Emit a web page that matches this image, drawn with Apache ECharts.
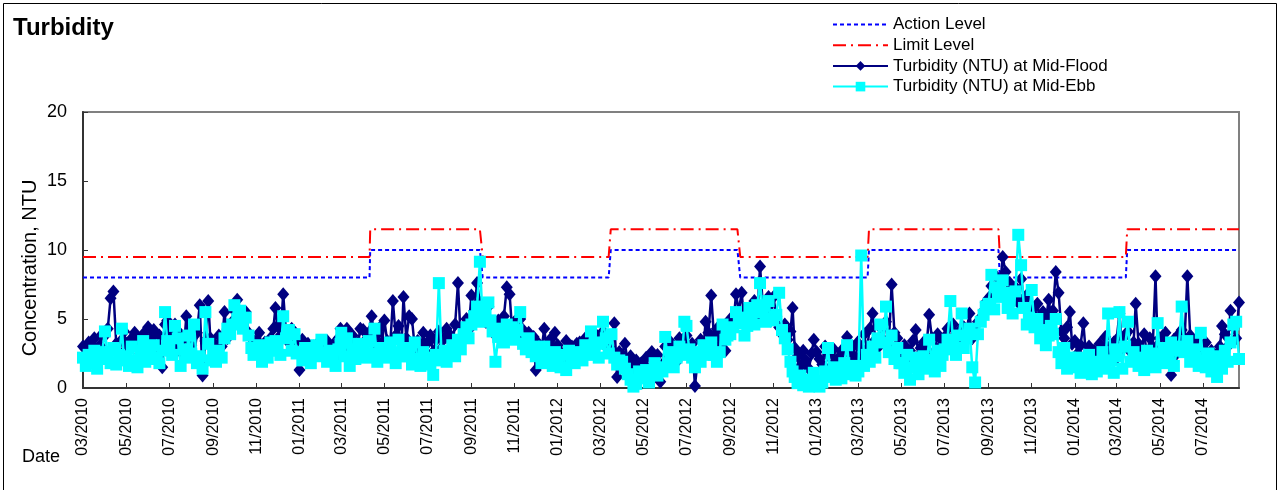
<!DOCTYPE html>
<html>
<head>
<meta charset="utf-8">
<script src="https://cdn.jsdelivr.net/npm/echarts@6/dist/echarts.min.js"></script>
<style>
html,body{margin:0;padding:0;background:#fff;}
#c{width:1282px;height:490px;}
</style>
</head>
<body>
<div id="c"></div>
<script>
// ---------- DATA ----------
const titleText = 'Turbidity';
const yAxisTitle = 'Concentration, NTU';
const xAxisTitle = 'Date';
const seriesNames = ['Action Level', 'Limit Level', 'Turbidity (NTU) at Mid-Flood', 'Turbidity (NTU) at Mid-Ebb'];
const yTicks = [0, 5, 10, 15, 20];
const xMin = '2010-03-01';
const xMax = '2014-08-21';

const actionLevel = [
  ['2010-03-01', 8], ['2011-04-10', 8], ['2011-04-11', 10], ['2011-09-13', 10], ['2011-09-17', 8],
  ['2012-03-13', 8], ['2012-03-16', 10], ['2012-09-11', 10], ['2012-09-15', 8],
  ['2013-03-14', 8], ['2013-03-16', 10], ['2013-09-15', 10], ['2013-09-17', 8],
  ['2014-03-14', 8], ['2014-03-16', 10], ['2014-08-21', 10]
];
const limitLevel = [
  ['2010-03-01', 9.5], ['2011-04-10', 9.5], ['2011-04-11', 11.5], ['2011-09-13', 11.5], ['2011-09-17', 9.5],
  ['2012-03-13', 9.5], ['2012-03-16', 11.5], ['2012-09-11', 11.5], ['2012-09-15', 9.5],
  ['2013-03-14', 9.5], ['2013-03-16', 11.5], ['2013-09-15', 11.5], ['2013-09-17', 9.5],
  ['2014-03-14', 9.5], ['2014-03-16', 11.5], ['2014-08-21', 11.5]
];

// monitoring months and sampling days within each month
const months = [
  '2010-03','2010-04','2010-05','2010-06','2010-07','2010-08','2010-09','2010-10','2010-11','2010-12',
  '2011-01','2011-02','2011-03','2011-04','2011-05','2011-06','2011-07','2011-08','2011-09','2011-10','2011-11','2011-12',
  '2012-01','2012-02','2012-03','2012-04','2012-05','2012-06','2012-07','2012-08','2012-09','2012-10','2012-11','2012-12',
  '2013-01','2013-02','2013-03','2013-04','2013-05','2013-06','2013-07','2013-08','2013-09','2013-10','2013-11','2013-12',
  '2014-01','2014-02','2014-03','2014-04','2014-05','2014-06','2014-07','2014-08'
];
const sampleDays = [1, 5, 9, 13, 17, 21, 25, 28];
const sampleDaysLast = [1, 5, 9, 13, 17, 21];

// Turbidity at Mid-Flood (NTU), one row per month
const floodByMonth = [
  [3.0,2.4,3.3,2.7,3.6,2.2,3.1,3.9],
  [3.8,4.3,6.5,7.0,3.2,2.6,3.5,4.1],
  [3.2,2.8,3.6,4.0,3.3,2.5,3.9,3.4],
  [4.4,3.6,4.2,2.9,3.8,1.5,4.6,4.9],
  [4.1,3.3,4.6,2.8,3.9,2.4,5.2,3.5],
  [3.1,2.2,4.0,6.0,0.9,3.4,6.3,3.6],
  [3.3,2.6,3.8,3.0,5.5,3.6,4.2,4.8],
  [5.6,6.4,5.2,4.8,5.5,4.0,3.6,3.2],
  [3.4,4.0,2.9,3.3,2.7,3.6,4.3,5.8],
  [4.5,3.8,6.8,4.0,3.3,4.3,2.8,3.4],
  [1.3,3.5,2.8,3.2,2.4,3.0,2.6,3.3],
  [3.0,2.6,3.4,2.75,3.1,2.3,3.6,4.3],
  [3.5,2.9,4.3,3.1,3.8,2.5,3.3,4.3],
  [4.2,3.5,4.0,5.2,3.7,2.8,4.4,3.3],
  [4.9,3.4,2.9,6.3,3.8,4.5,2.7,6.6],
  [3.6,5.2,5.0,2.9,3.4,2.4,4.0,3.1],
  [3.3,3.8,2.6,3.5,4.1,2.9,3.6,4.3],
  [3.9,3.2,4.6,7.6,3.5,4.4,5.0,4.2],
  [6.7,5.6,7.6,6.2,5.3,4.8,5.9,4.5],
  [4.4,3.8,4.9,4.1,5.2,7.3,6.8,4.6],
  [4.8,3.6,5.0,4.2,3.4,4.0,3.1,3.7],
  [1.3,3.2,2.8,4.3,2.5,3.5,2.9,4.0],
  [3.1,2.6,2.2,3.4,2.8,3.0,2.5,3.2],
  [3.3,2.9,3.6,3.1,3.5,2.7,3.8,3.2],
  [3.5,4.1,3.0,3.7,2.8,4.7,0.8,2.6],
  [2.4,3.2,1.9,2.3,1.5,2.0,1.2,1.8],
  [1.6,2.2,1.3,2.6,1.9,2.4,0.45,1.7],
  [3.0,2.4,3.3,2.7,1.9,3.6,2.5,3.2],
  [3.8,2.6,3.2,0.15,2.1,3.5,2.9,4.8],
  [4.0,6.7,3.6,4.3,3.1,3.8,2.7,4.5],
  [5.0,4.4,6.8,5.6,6.9,4.7,5.3,4.9],
  [5.8,6.3,5.1,8.8,6.0,5.4,6.6,4.9],
  [6.6,5.2,4.4,3.9,4.6,3.5,4.1,5.8],
  [2.9,2.3,1.6,2.7,2.0,1.4,2.5,3.5],
  [2.6,2.1,1.7,3.0,2.4,1.5,2.8,1.9],
  [2.2,2.7,1.8,3.7,2.5,3.0,2.1,3.3],
  [3.1,2.4,3.9,2.8,4.3,5.4,3.5,2.9],
  [4.4,3.5,4.8,3.2,7.5,4.0,3.6,2.9],
  [2.6,3.1,2.0,2.7,3.4,4.2,2.3,2.9],
  [3.3,2.8,5.3,3.6,2.5,3.9,3.0,3.4],
  [3.7,4.3,3.2,4.6,3.9,4.1,3.5,4.4],
  [4.2,5.4,3.6,4.0,4.8,5.1,5.6,6.2],
  [6.5,7.4,6.9,8.0,7.2,9.5,8.4,7.0],
  [7.6,6.8,7.3,6.2,7.9,6.5,5.7,6.9],
  [5.9,5.2,6.1,4.7,5.5,4.9,6.4,5.3],
  [5.6,8.4,6.9,4.1,3.6,4.4,5.5,3.2],
  [3.4,2.5,3.1,4.7,2.2,3.0,1.8,2.7],
  [2.6,3.2,2.0,3.7,2.9,2.4,3.3,2.1],
  [3.5,5.4,2.9,3.8,4.1,2.6,3.3,6.1],
  [3.2,2.7,3.9,2.4,3.6,2.9,8.1,3.1],
  [3.6,2.8,4.0,3.2,0.95,3.5,2.5,3.9],
  [4.2,3.4,8.1,3.8,2.9,3.5,2.6,3.1],
  [2.8,3.3,2.1,2.7,1.6,2.4,3.0,4.5],
  [3.9,3.0,5.6,4.4,3.6,6.2]
];

// Turbidity at Mid-Ebb (NTU), one row per month
const ebbByMonth = [
  [2.2,1.6,2.4,1.8,2.7,1.4,2.1,2.6],
  [4.1,2.3,1.8,2.9,1.7,2.4,4.3,2.0],
  [2.3,1.6,3.0,2.0,1.5,2.7,3.4,1.9],
  [2.6,2.1,3.1,2.2,1.8,2.7,5.5,3.4],
  [3.0,2.4,4.5,3.6,1.6,2.8,2.2,3.8],
  [2.5,4.6,1.8,2.3,1.4,5.5,3.2,2.0],
  [2.4,1.9,2.7,2.2,3.6,4.3,3.9,4.6],
  [6.0,5.0,5.6,4.3,5.1,3.8,2.9,2.4],
  [2.5,3.1,1.9,2.6,2.2,3.3,2.7,3.4],
  [3.0,2.4,5.2,3.6,4.2,2.7,3.9,2.5],
  [2.6,2.0,2.9,2.2,1.8,2.5,3.1,2.3],
  [3.5,2.4,1.9,2.7,2.2,1.6,2.8,3.2],
  [4.0,2.3,3.6,1.6,2.8,2.1,3.2,2.5],
  [2.7,2.2,3.4,2.5,4.3,1.9,2.9,2.4],
  [2.8,2.2,3.3,2.6,1.8,3.5,2.3,2.9],
  [2.3,2.9,1.7,3.3,2.1,1.6,2.6,2.0],
  [2.2,1.7,0.95,2.4,7.6,2.0,2.7,1.9],
  [2.6,3.1,2.3,3.5,2.8,3.9,4.4,3.6],
  [4.6,5.2,5.9,9.15,4.8,5.5,6.2,4.9],
  [4.1,1.9,3.7,4.3,3.3,4.6,3.9,4.4],
  [3.5,4.2,5.5,3.2,2.8,3.6,2.6,3.0],
  [2.3,2.7,1.8,3.0,2.1,2.5,1.6,2.6],
  [2.0,1.5,2.4,1.3,2.7,2.1,1.8,2.6],
  [2.5,2.0,3.1,2.8,4.1,2.4,3.3,2.2],
  [3.2,4.8,3.6,2.5,3.9,2.2,1.7,2.0],
  [1.9,1.4,1.0,0.6,0.1,0.3,1.2,0.8],
  [0.7,1.3,0.4,1.1,1.8,0.9,1.5,1.2],
  [3.7,1.8,2.6,1.5,2.2,3.0,2.4,4.8],
  [4.5,2.8,2.2,1.5,2.6,1.9,3.1,2.4],
  [2.9,3.3,2.4,1.9,2.6,4.6,3.5,3.8],
  [3.9,4.4,5.5,4.7,5.1,3.8,4.5,5.8],
  [5.2,4.6,6.0,7.6,5.5,4.8,6.3,5.0],
  [4.9,5.3,6.9,4.2,3.6,2.8,1.9,1.2],
  [0.8,0.35,0.9,0.2,0.6,0.1,0.5,1.1],
  [0.5,0.1,0.4,1.2,2.9,0.8,1.5,0.6],
  [1.3,0.7,1.8,3.1,1.0,1.6,0.9,1.4],
  [1.2,9.6,1.6,2.4,1.9,3.0,2.2,3.6],
  [4.6,3.3,5.9,2.6,3.8,2.1,2.9,1.8],
  [1.8,1.1,2.4,0.6,1.5,2.2,1.0,1.7],
  [2.3,1.4,3.5,2.0,1.2,2.7,1.6,2.4],
  [2.8,3.5,6.3,3.1,2.4,3.8,5.4,2.9],
  [3.6,4.3,1.5,0.4,3.9,4.8,5.3,5.9],
  [6.1,8.2,5.7,7.3,6.6,7.8,6.9,5.8],
  [6.3,5.4,7.0,11.1,8.9,5.8,4.6,5.1],
  [7.1,4.4,5.0,3.6,4.2,3.1,3.8,4.5],
  [3.9,5.0,2.6,1.8,2.9,1.4,2.2,1.7],
  [1.5,2.2,1.1,1.8,1.3,2.4,1.0,1.6],
  [1.2,1.9,2.6,1.4,5.4,2.0,1.1,2.8],
  [2.3,5.5,1.4,3.0,4.8,1.9,2.6,2.1],
  [1.6,2.2,1.3,2.7,1.9,2.5,1.5,4.7],
  [2.4,1.8,2.9,2.1,3.3,1.6,2.7,3.0],
  [5.9,2.6,3.4,1.9,2.8,2.2,1.6,4.0],
  [2.0,1.5,2.5,1.2,1.8,0.8,2.3,1.4],
  [2.7,1.9,3.3,4.6,4.8,2.1]
];

// ---------- BUILD ----------
function pad2(n){ return (n < 10 ? '0' : '') + n; }
function buildSeries(byMonth){
  const out = [];
  byMonth.forEach(function(vals, m){
    const days = (m === months.length - 1) ? sampleDaysLast : sampleDays;
    vals.forEach(function(v, i){ out.push([months[m] + '-' + pad2(days[i]), v]); });
  });
  return out;
}
const floodData = buildSeries(floodByMonth);
const ebbData = buildSeries(ebbByMonth);

const FONT = 'Arial, "Liberation Sans", sans-serif';
const DAY = 86400000;

const chart = echarts.init(document.getElementById('c'), null, {renderer: 'canvas'});
chart.setOption({
  animation: false,
  backgroundColor: '#ffffff',
  textStyle: { fontFamily: FONT, color: '#000' },
  title: {
    text: titleText, left: 8, top: 11,
    textStyle: { fontFamily: FONT, fontSize: 24, fontWeight: 'bold', color: '#000' }
  },
  graphic: [
    { type: 'rect', shape: { x: 3.5, y: 3.5, width: 1273, height: 520 }, style: { fill: 'none', stroke: '#000', lineWidth: 1 }, silent: true, z: -10 },
    { type: 'text', left: 22, top: 448, style: { text: xAxisTitle, font: '18px ' + FONT, fill: '#000' } },
    { type: 'text', x: 30, y: 268, rotation: Math.PI / 2,
      style: { text: yAxisTitle, font: '20px ' + FONT, fill: '#000', align: 'center', verticalAlign: 'middle' } }
  ],
  legend: {
    orient: 'vertical', left: 827, top: 11,
    itemWidth: 55, itemHeight: 12, itemGap: 3.7,
    textStyle: { fontFamily: FONT, fontSize: 17, color: '#000' },
    data: [
      { name: seriesNames[0], itemStyle: { opacity: 0 } },
      { name: seriesNames[1], itemStyle: { opacity: 0 } },
      { name: seriesNames[2] },
      { name: seriesNames[3] }
    ]
  },
  grid: {
    left: 83, right: 43, top: 112, bottom: 102,
    show: true, borderColor: '#808080', borderWidth: 2, backgroundColor: '#fff'
  },
  xAxis: {
    type: 'time', min: xMin, max: xMax,
    minInterval: 61 * DAY, maxInterval: 61 * DAY,
    splitLine: { show: false },
    axisLine: { lineStyle: { color: '#333', width: 2 } },
    axisTick: { inside: true, length: 5, lineStyle: { color: '#333', width: 1 } },
    axisLabel: {
      rotate: 90, margin: 10, fontSize: 16, color: '#000', fontFamily: FONT, fontWeight: 'normal',
      hideOverlap: false,
      formatter: function(v){ const d = new Date(v); return pad2(d.getMonth() + 1) + '/' + d.getFullYear(); }
    }
  },
  yAxis: {
    type: 'value', min: yTicks[0], max: yTicks[yTicks.length - 1], interval: 5,
    splitLine: { show: false },
    axisLine: { show: true, lineStyle: { color: '#333', width: 2 } },
    axisTick: { show: true, inside: true, length: 5, lineStyle: { color: '#333', width: 1 } },
    axisLabel: { fontSize: 18, color: '#000', margin: 16, fontFamily: FONT }
  },
  series: [
    {
      name: seriesNames[0], type: 'line', data: actionLevel, showSymbol: false, symbol: 'none',
      lineStyle: { color: '#0000ff', width: 2, type: [4, 3] }, itemStyle: { color: '#0000ff' }, z: 2
    },
    {
      name: seriesNames[1], type: 'line', data: limitLevel, showSymbol: false, symbol: 'none',
      lineStyle: { color: '#ff0000', width: 2, type: [13, 5, 2, 5] }, itemStyle: { color: '#ff0000' }, z: 2
    },
    {
      name: seriesNames[2], type: 'line', data: floodData, symbol: 'diamond', symbolSize: [12, 14],
      lineStyle: { color: '#000080', width: 2.5 }, itemStyle: { color: '#000080' }, z: 3
    },
    {
      name: seriesNames[3], type: 'line', data: ebbData, symbol: 'rect', symbolSize: [12, 12],
      lineStyle: { color: '#00ffff', width: 2.5 }, itemStyle: { color: '#00ffff' }, z: 4
    }
  ]
});
</script>
</body>
</html>
